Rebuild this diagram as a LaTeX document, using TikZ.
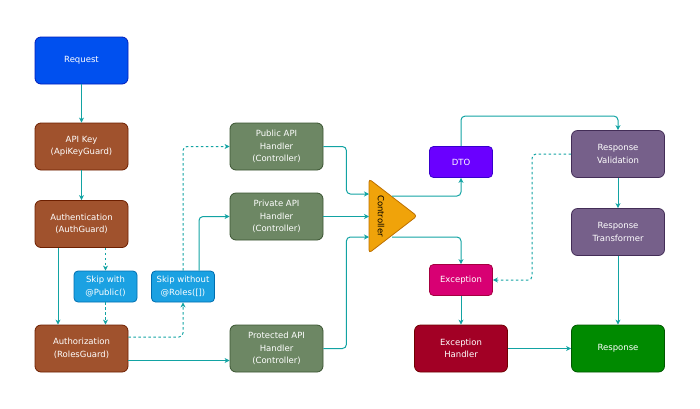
\documentclass[tikz,border=0pt]{standalone}
\usepackage{fontspec}
\setmainfont{DejaVu Sans}
\usetikzlibrary{arrows.meta}
\definecolor{lnk}{RGB}{18,163,163}
\definecolor{reqfill}{HTML}{0050EF}\definecolor{reqline}{HTML}{001DBC}
\definecolor{grdfill}{HTML}{A0522D}\definecolor{grdline}{HTML}{6D1F00}
\definecolor{skpfill}{HTML}{1BA1E2}\definecolor{skpline}{HTML}{006EAF}
\definecolor{hdlfill}{HTML}{6D8764}\definecolor{hdlline}{HTML}{3A5431}
\definecolor{ctlfill}{HTML}{F0A30A}\definecolor{ctlline}{HTML}{BD7000}
\definecolor{dtofill}{HTML}{6A00FF}\definecolor{dtoline}{HTML}{3700CC}
\definecolor{excfill}{HTML}{D80073}\definecolor{excline}{HTML}{A50040}
\definecolor{exhfill}{HTML}{A20025}\definecolor{exhline}{HTML}{6F0000}
\definecolor{resfill}{HTML}{76608A}\definecolor{resline}{HTML}{432D57}
\definecolor{rspfill}{HTML}{008A00}\definecolor{rspline}{HTML}{005700}

\begin{document}
\begin{tikzpicture}[x=1pt,y=-1pt,
    box/.style={draw, line width=0.8pt, rounded corners=6pt, minimum width=93pt,
      minimum height=47pt, align=center, text=white, inner sep=2pt,
      font=\fontsize{8.5}{12.5}\selectfont},
    small/.style={box, minimum width=63pt, minimum height=31pt, rounded corners=4pt},
    link/.style={draw=lnk, line width=1pt, rounded corners=4pt,
      -{Stealth[length=5pt,width=5pt,inset=1.5pt]}},
    skiplink/.style={link, dash pattern=on 2.5pt off 2.5pt}]
    \useasboundingbox (0,0) rectangle (700,408);

    % guards
    \node[box, fill=reqfill, draw=reqline] (req) at (81.5,60.5) {Request};
    \node[box, fill=grdfill, draw=grdline] (apikey) at (81.5,146.5) {API Key\\(ApiKeyGuard)};
    \node[box, fill=grdfill, draw=grdline] (authn) at (81.5,224) {Authentication\\(AuthGuard)};
    \node[box, fill=grdfill, draw=grdline] (authz) at (81.5,348.5) {Authorization\\(RolesGuard)};
    \node[small, fill=skpfill, draw=skpline] (skippub) at (105.5,286.5) {Skip with\\@Public()};
    \node[small, fill=skpfill, draw=skpline] (skiprol) at (183,286.5) {Skip without\\@Roles([])};

    % handlers
    \node[box, fill=hdlfill, draw=hdlline] (pub) at (276.5,146.5) {Public API\\Handler\\(Controller)};
    \node[box, fill=hdlfill, draw=hdlline] (priv) at (276.5,216.5) {Private API\\Handler\\(Controller)};
    \node[box, fill=hdlfill, draw=hdlline] (prot) at (276.5,348.5) {Protected API\\Handler\\(Controller)};

    % controller
    \draw[fill=ctlfill, draw=ctlline, line width=0.8pt, rounded corners=3pt]
      (369,179) -- (417,216) -- (369,253) -- cycle;
    \node[rotate=-90, font=\fontsize{8.5}{10}\selectfont] (ctl) at (381,216) {Controller};
    \coordinate (in1) at (369,194);
    \coordinate (in2) at (369,216.5);
    \coordinate (in3) at (369,237);
    \coordinate (out1) at (392,196);
    \coordinate (out2) at (392,237);

    % response side
    \node[small, fill=dtofill, draw=dtoline] (dto) at (461,162) {DTO};
    \node[small, fill=excfill, draw=excline] (exc) at (461,280) {Exception};
    \node[box, fill=exhfill, draw=exhline] (exch) at (461,348.5) {Exception\\Handler};
    \node[box, fill=resfill, draw=resline] (rval) at (618,154) {Response\\Validation};
    \node[box, fill=resfill, draw=resline] (rtrf) at (618,232) {Response\\Transformer};
    \node[box, fill=rspfill, draw=rspline] (resp) at (618,348.5) {Response};

    \draw[link] (req) -- (apikey);
    \draw[link] (apikey) -- (authn);
    \draw[link] ([xshift=-23.5pt]authn.south) -- ([xshift=-23.5pt]authz.north);
    \draw[skiplink] (authn.south -| skippub.north) -- (skippub.north);
    \draw[skiplink] (skippub.south) -- (skippub.south |- authz.north);
    \draw[skiplink] ([yshift=11.5pt]authz.east) -| (skiprol.south);
    \draw[link] ([yshift=-12pt]authz.east) -- ([yshift=-12pt]prot.west);
    \draw[skiplink] (skiprol.north) |- (pub.west);
    \draw[link] ([xshift=16pt]skiprol.north) |- (priv.west);

    \draw[link] (pub.east) -- ++(23,0) |- (in1);
    \draw[link] (priv.east) -- (in2);
    \draw[link] (prot.east) -- ++(23,0) |- (in3);
    \draw[link] (out1) -| (dto.south);
    \draw[link] (out2) -| (exc.north);

    \draw[link] (dto.north) -- ++(0,-30) -| (rval.north);
    \draw[skiplink] (rval.west) -- ++(-39,0) |- (exc.east);
    \draw[link] (rval) -- (rtrf);
    \draw[link] (rtrf) -- (resp);
    \draw[link] (exc) -- (exch);
    \draw[link] (exch) -- (resp);

\end{tikzpicture}
\end{document}
